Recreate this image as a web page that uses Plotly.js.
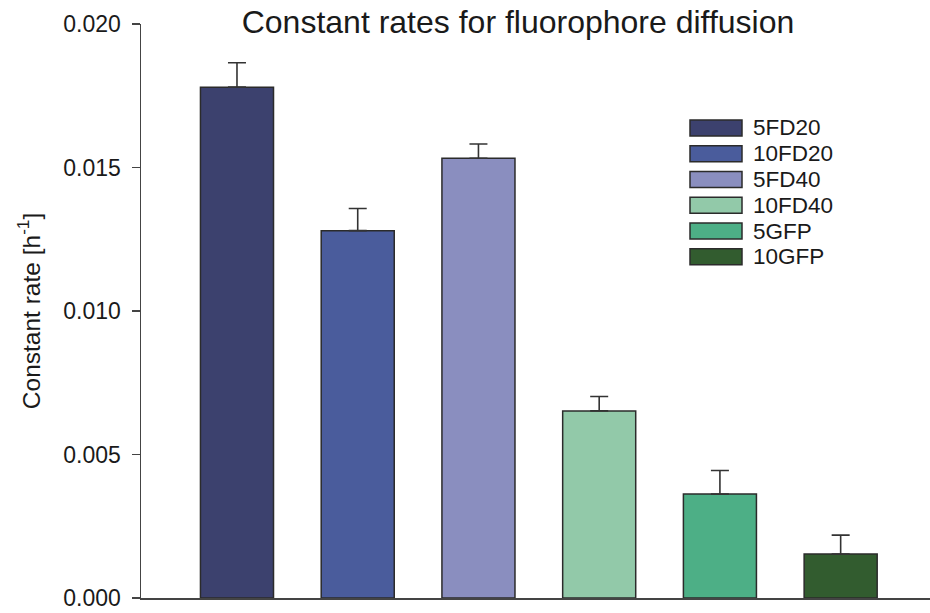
<!DOCTYPE html>
<html>
<head>
<meta charset="utf-8">
<script src="https://cdn.plot.ly/plotly-3.0.1.min.js"></script>
<style>html,body{margin:0;padding:0;background:#fff;}#chart{width:930px;height:613px;}</style>
</head>
<body>
<div id="chart"></div>
<script>
const categories = ["5FD20", "10FD20", "5FD40", "10FD40", "5GFP", "10GFP"];
const rates = [0.0178, 0.0128, 0.01532, 0.00652, 0.00362, 0.00153];
const errors = [0.00085, 0.00077, 0.0005, 0.0005, 0.00082, 0.00066];
const colors = ["#3c416e", "#4a5c9c", "#8a8ebf", "#92c9a9", "#4daf86", "#325c2f"];
const yTicks = [0, 0.005, 0.010, 0.015, 0.020];

const FONT = "Liberation Sans, Arial, sans-serif";
const W = 930, H = 613;

const traces = categories.map((c, i) => ({
  type: "bar",
  name: c,
  x: [i],
  y: [rates[i]],
  width: 0.605,
  marker: {color: colors[i], line: {color: "#2b2b2b", width: 1.5}},
  error_y: {type: "data", symmetric: false, array: [errors[i]], arrayminus: [0],
            color: "#333", thickness: 1.6, width: 9},
  showlegend: false,
  hoverinfo: "skip"
}));

// custom legend (large swatches like the reference)
const shapes = [];
const annotations = [];
const lx0 = 690, lx1 = 742, ly0 = 128, lstep = 25.8, lh = 16;
categories.forEach((c, i) => {
  const cy = ly0 + i * lstep;
  shapes.push({type: "rect", xref: "paper", yref: "paper",
    x0: (lx0 - 141) / (W - 141), x1: (lx1 - 141) / (W - 141),
    y0: (598.5 - (cy + lh / 2)) / 574.5, y1: (598.5 - (cy - lh / 2)) / 574.5,
    fillcolor: colors[i], line: {color: "#2b2b2b", width: 1.5}});
  annotations.push({xref: "paper", yref: "paper", x: (751 - 141) / (W - 141),
    y: (598.5 - cy) / 574.5, xanchor: "left", yanchor: "middle", showarrow: false,
    text: c, font: {family: FONT, size: 22.5, color: "#1a1a1a"}});
});

const layout = {
  width: W, height: H,
  paper_bgcolor: "#ffffff", plot_bgcolor: "#ffffff",
  margin: {l: 141, r: 0, t: 24, b: 14.5},
  barmode: "overlay",
  title: {text: "Constant rates for fluorophore diffusion", font: {family: FONT, size: 32, color: "#1a1a1a"},
          xref: "container", yref: "container", x: 0.557, y: 1 - 22 / H, xanchor: "center", yanchor: "middle"},
  xaxis: {range: [-0.795, 5.74], showgrid: false, zeroline: false, showticklabels: false, ticks: "",
          showline: true, linecolor: "#444", linewidth: 1.5, fixedrange: true},
  yaxis: {range: [0, 0.020], tickvals: yTicks, tickformat: ".3f", ticks: "outside", ticklen: 8, tickwidth: 1.5,
          tickcolor: "#444", showline: true, linecolor: "#444", linewidth: 1.5, showgrid: false, zeroline: false,
          tickfont: {family: FONT, size: 23, color: "#1a1a1a"}, ticklabelstandoff: 6,
          title: {text: "Constant rate [h<sup>-1</sup>]", font: {family: FONT, size: 24.5, color: "#1a1a1a"}, standoff: 16}},
  showlegend: false,
  shapes: shapes,
  annotations: annotations
};

Plotly.newPlot("chart", traces, layout, {displayModeBar: false, staticPlot: true});
</script>
</body>
</html>
